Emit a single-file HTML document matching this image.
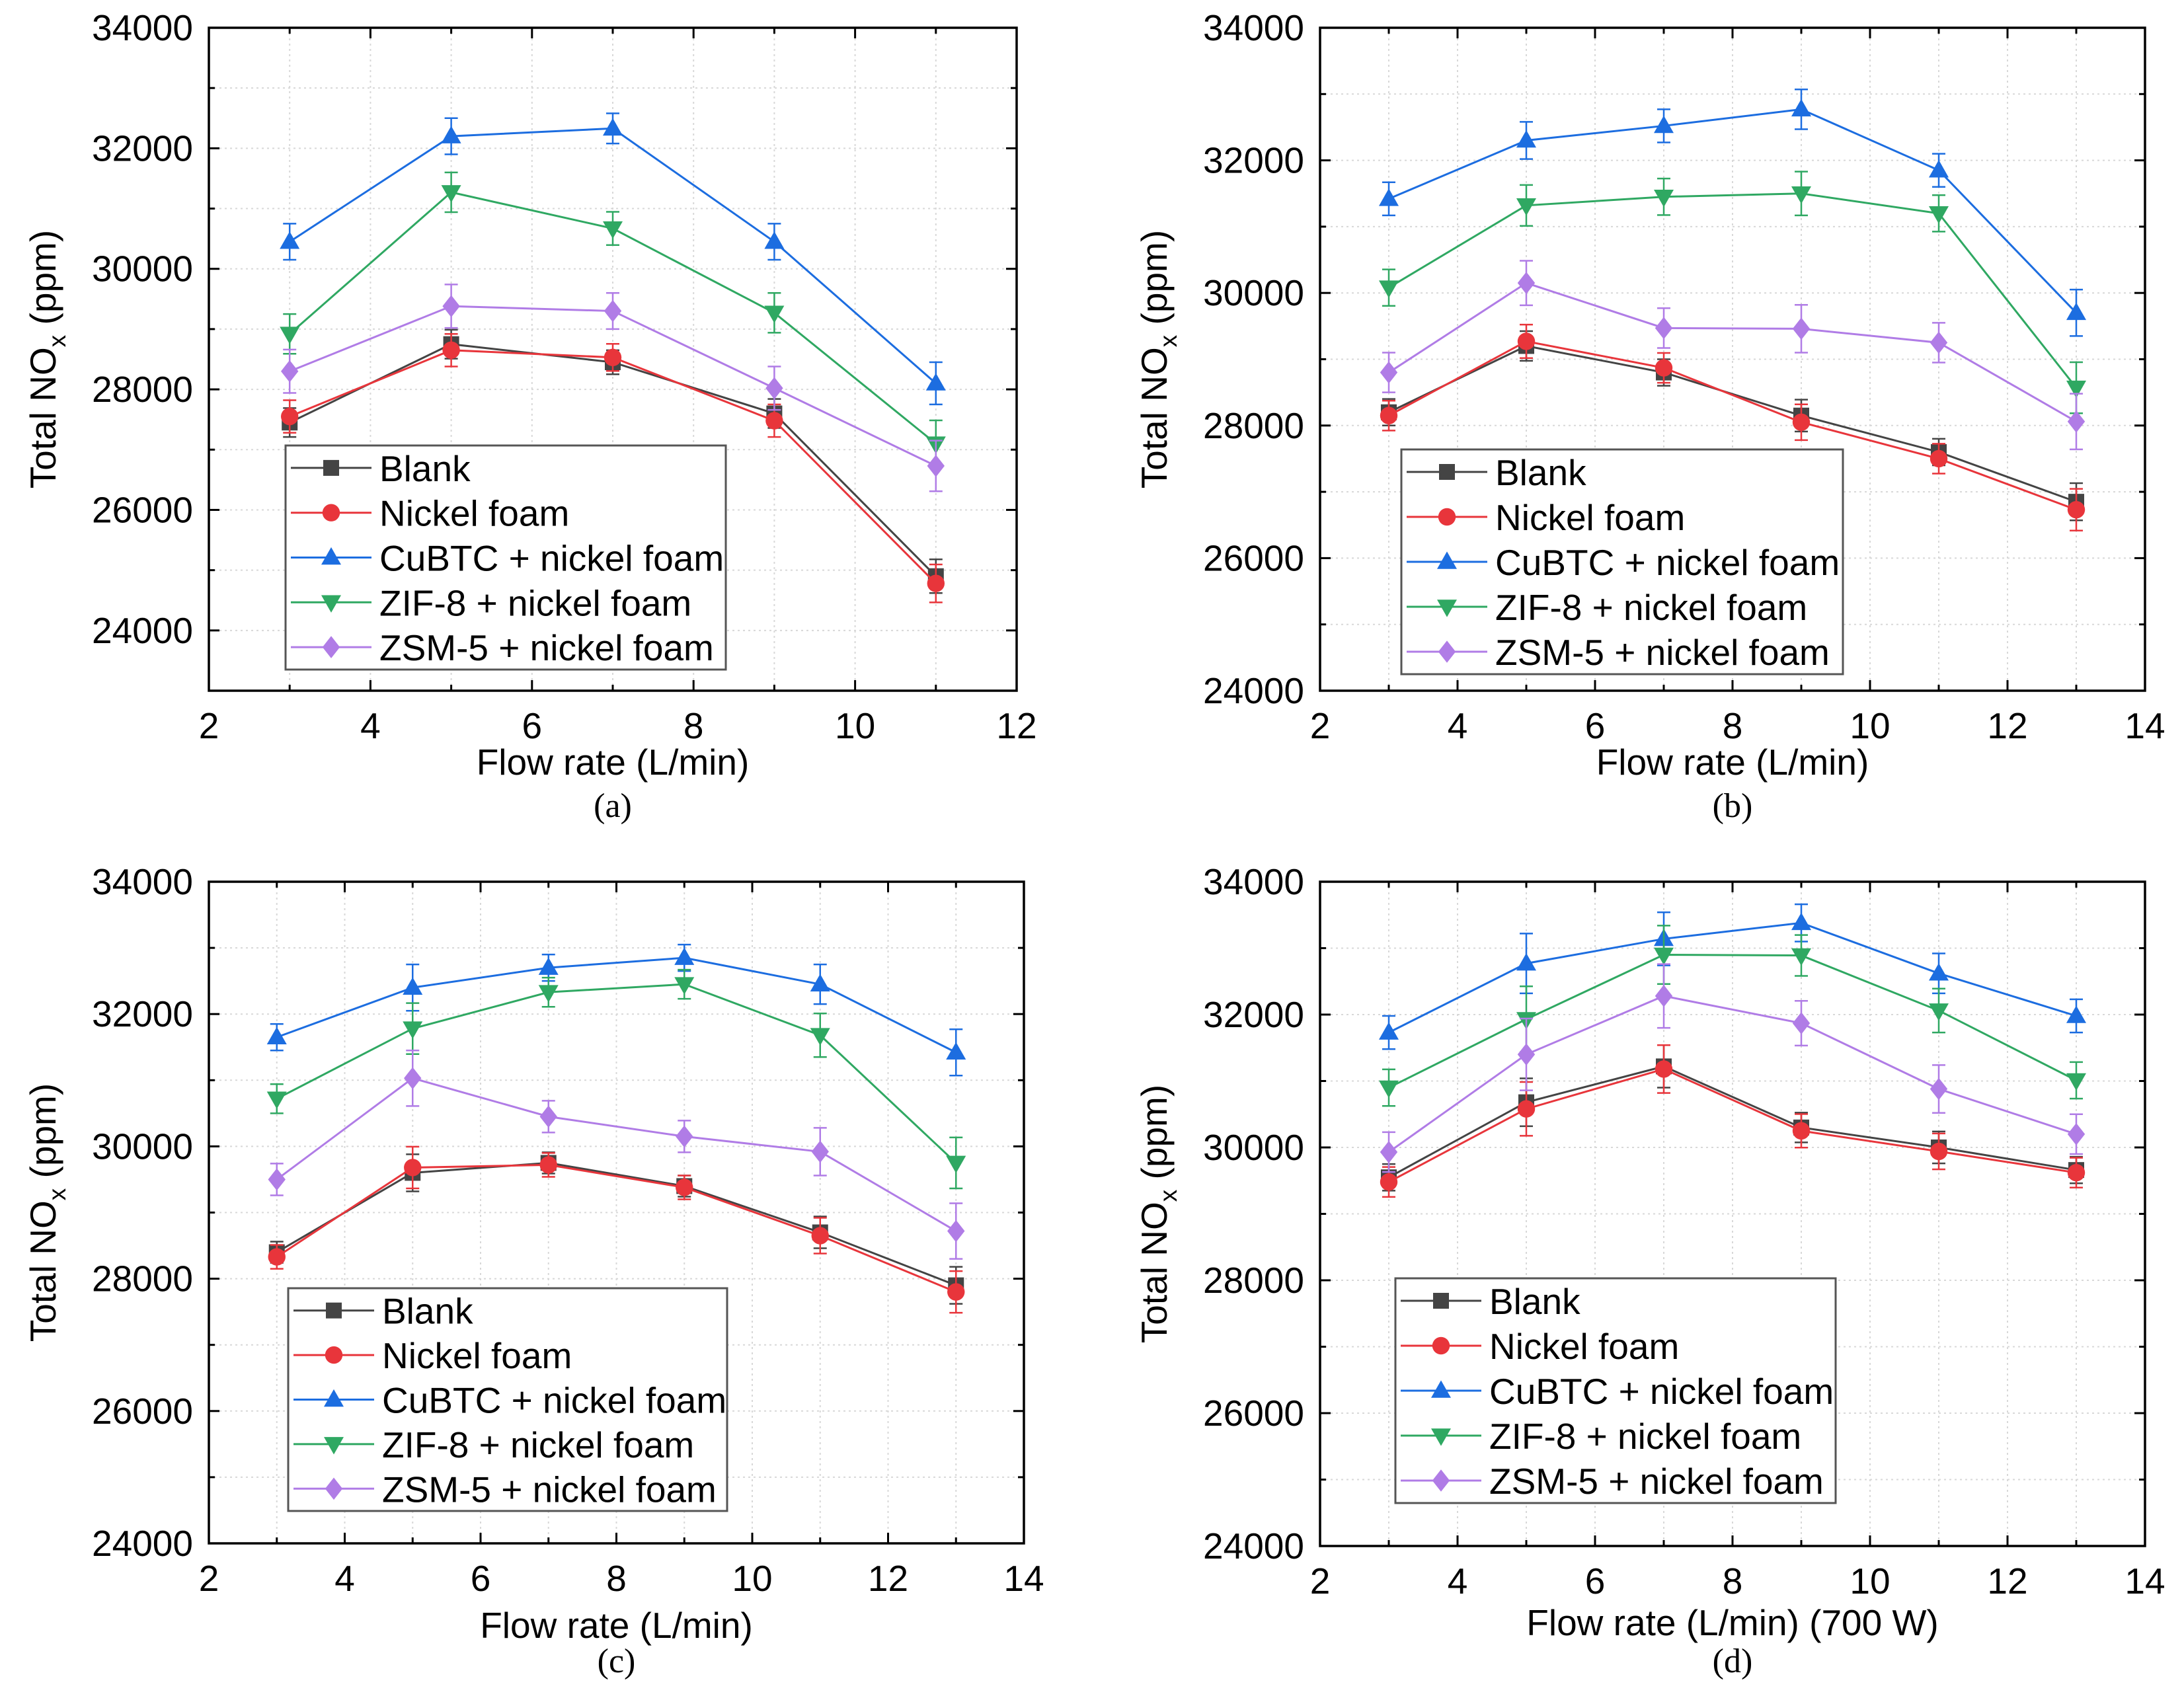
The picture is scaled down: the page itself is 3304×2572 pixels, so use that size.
<!DOCTYPE html>
<html><head><meta charset="utf-8">
<style>
html,body{margin:0;padding:0;background:#fff;}
svg{display:block;}
text{font-family:"Liberation Sans",Arial,sans-serif;fill:#000;}
</style></head>
<body>
<svg id="fig" width="3304" height="2572" viewBox="0 0 3304 2572" xmlns="http://www.w3.org/2000/svg"></svg>
<script>
const seriesNames = ["Blank","Nickel foam","CuBTC + nickel foam","ZIF-8 + nickel foam","ZSM-5 + nickel foam"];
const seriesColors = ["#444444","#e8353b","#1c6de0","#2fa862","#b07ce6"];
const markerShapes = ["square","circle","up","down","diamond"];
const yTicks = [24000,26000,28000,30000,32000,34000];

const xA = [3,5,7,9,11];
const aBlank = [27450,28750,28450,27600,24900];
const aNickel = [27550,28650,28530,27480,24780];
const aCu = [30450,32200,32330,30450,28100];
const aZif = [28920,31270,30670,29270,27100];
const aZsm = [28300,29380,29300,28020,26730];
const aErr = [300,300,250,300,350];

const xB = [3,5,7,9,11,13];
const bBlank = [28200,29200,28800,28150,27600,26850];
const bNickel = [28150,29270,28870,28050,27500,26730];
const bCu = [31420,32300,32520,32770,31850,29700];
const bZif = [30080,31320,31450,31500,31200,28570];
const bZsm = [28800,30150,29470,29460,29250,28060];
const bErr = [250,280,250,300,250,350];

const xC = [3,5,7,9,11,13];
const cBlank = [28400,29600,29750,29400,28700,27900];
const cNickel = [28330,29680,29720,29380,28650,27800];
const cCu = [31650,32400,32700,32850,32450,31420];
const cZif = [30720,31780,32330,32450,31680,29750];
const cZsm = [29500,31030,30450,30150,29920,28720];
const cErr = [200,350,200,200,300,350];

const xD = [3,5,7,9,11,13];
const dBlank = [29550,30680,31220,30300,30000,29660];
const dNickel = [29480,30580,31180,30250,29940,29620];
const dCu = [31730,32770,33140,33380,32620,31980];
const dZif = [30900,31930,32900,32890,32060,31010];
const dZsm = [29930,31400,32280,31870,30880,30200];
const dErr = [250,450,400,280,300,250];

const panels = [
 {id:"a",x:xA,series:[aBlank,aNickel,aCu,aZif,aZsm],err:aErr,xmin:2,xmax:12,ymin:23000,ymax:34000,xt:[2,4,6,8,10,12],
  L:316,R:1538,T:42,B:1045,xlabel:"Flow rate (L/min)",xlabelY:1172,capY:1236,leg:[432,674,1098,1013]},
 {id:"b",x:xB,series:[bBlank,bNickel,bCu,bZif,bZsm],err:bErr,xmin:2,xmax:14,ymin:24000,ymax:34000,xt:[2,4,6,8,10,12,14],
  L:1997,R:3245,T:42,B:1045,xlabel:"Flow rate (L/min)",xlabelY:1172,capY:1236,leg:[2120,680,2788,1020]},
 {id:"c",x:xC,series:[cBlank,cNickel,cCu,cZif,cZsm],err:cErr,xmin:2,xmax:14,ymin:24000,ymax:34000,xt:[2,4,6,8,10,12,14],
  L:316,R:1549,T:1334,B:2335,xlabel:"Flow rate (L/min)",xlabelY:2478,capY:2530,leg:[436,1949,1100,2286]},
 {id:"d",x:xD,series:[dBlank,dNickel,dCu,dZif,dZsm],err:dErr,xmin:2,xmax:14,ymin:24000,ymax:34000,xt:[2,4,6,8,10,12,14],
  L:1997,R:3245,T:1334,B:2339,xlabel:"Flow rate (L/min) (700 W)",xlabelY:2474,capY:2530,leg:[2111,1934,2777,2274]}
];

const NS="http://www.w3.org/2000/svg";
const svg=document.getElementById("fig");
function mk(tag,attrs,parent){const e=document.createElementNS(NS,tag);for(const k in attrs)e.setAttribute(k,attrs[k]);(parent||svg).appendChild(e);return e;}

function marker(g,shape,cx,cy,s,color){
  let e;
  if(shape==="square") e=mk("rect",{x:cx-s,y:cy-s,width:2*s,height:2*s,fill:color},g);
  else if(shape==="circle") e=mk("circle",{cx:cx,cy:cy,r:s*1.1,fill:color},g);
  else if(shape==="up") e=mk("polygon",{points:`${cx},${cy-s*1.3} ${cx-s*1.25},${cy+s*0.9} ${cx+s*1.25},${cy+s*0.9}`,fill:color},g);
  else if(shape==="down") e=mk("polygon",{points:`${cx},${cy+s*1.3} ${cx-s*1.25},${cy-s*0.9} ${cx+s*1.25},${cy-s*0.9}`,fill:color},g);
  else e=mk("polygon",{points:`${cx},${cy-s*1.4} ${cx+s*1.1},${cy} ${cx},${cy+s*1.4} ${cx-s*1.1},${cy}`,fill:color},g);
  return e;
}

panels.forEach(p=>{
  const g=mk("g",{});
  
  
  const sx=v=>p.L+(v-p.xmin)/(p.xmax-p.xmin)*(p.R-p.L);
  const sy=v=>p.B-(v-p.ymin)/(p.ymax-p.ymin)*(p.B-p.T);
  for(let v=p.xmin+1;v<p.xmax;v++) mk("line",{x1:sx(v),x2:sx(v),y1:p.T,y2:p.B,stroke:"#d8d8d8","stroke-width":2,"stroke-dasharray":"3 5"},g);
  for(let v=p.ymin+1000;v<p.ymax;v+=1000) mk("line",{x1:p.L,x2:p.R,y1:sy(v),y2:sy(v),stroke:"#d8d8d8","stroke-width":2,"stroke-dasharray":"3 5"},g);
  for(let v=p.xmin;v<=p.xmax;v++){const major=(v%2===0);const len=major?16:9;
    mk("line",{x1:sx(v),x2:sx(v),y1:p.B,y2:p.B-len,stroke:"#000","stroke-width":3},g);
    mk("line",{x1:sx(v),x2:sx(v),y1:p.T,y2:p.T+len,stroke:"#000","stroke-width":3},g);}
  for(let v=p.ymin;v<=p.ymax;v+=1000){const major=(v%2000===0);const len=major?16:9;
    mk("line",{x1:p.L,x2:p.L+len,y1:sy(v),y2:sy(v),stroke:"#000","stroke-width":3},g);
    mk("line",{x1:p.R,x2:p.R-len,y1:sy(v),y2:sy(v),stroke:"#000","stroke-width":3},g);}
  mk("rect",{x:p.L,y:p.T,width:p.R-p.L,height:p.B-p.T,fill:"none",stroke:"#000","stroke-width":3.5},g);
  p.xt.forEach(v=>{const t=mk("text",{x:sx(v),y:p.B+72,"text-anchor":"middle","font-size":55},g);t.textContent=v;
    
    });
  yTicks.forEach(v=>{const t=mk("text",{x:p.L-24,y:sy(v)+19,"text-anchor":"end","font-size":55},g);t.textContent=v;
    
    });
  const xt=mk("text",{x:(p.L+p.R)/2,y:p.xlabelY,"text-anchor":"middle","font-size":55},g);xt.textContent=p.xlabel;
  
  
  const yc=(p.T+p.B)/2, yx=p.L-232;
  const yt=mk("text",{x:0,y:0,"text-anchor":"middle","font-size":55,transform:`translate(${yx},${yc}) rotate(-90)`},g);
  yt.innerHTML='Total NO<tspan font-size="37" dy="15">x</tspan><tspan dy="-15"> (ppm)</tspan>';
  
  
  const cap=mk("text",{x:(p.L+p.R)/2,y:p.capY,"text-anchor":"middle","font-size":52,style:'font-family:"Liberation Serif",serif'},g);
  cap.textContent="("+p.id+")";
  
  
  p.series.forEach((vals,si)=>{
    const sg=mk("g",{},g);
    
    
    const col=seriesColors[si];
    vals.forEach((v,i)=>{const x=sx(p.x[i]);const e=p.err[i]*(0.8+0.1*si);
      mk("line",{x1:x,x2:x,y1:sy(v-e),y2:sy(v+e),stroke:col,"stroke-width":2.5},sg);
      mk("line",{x1:x-10,x2:x+10,y1:sy(v-e),y2:sy(v-e),stroke:col,"stroke-width":2.5},sg);
      mk("line",{x1:x-10,x2:x+10,y1:sy(v+e),y2:sy(v+e),stroke:col,"stroke-width":2.5},sg);});
    mk("polyline",{points:vals.map((v,i)=>sx(p.x[i])+","+sy(v)).join(" "),fill:"none",stroke:col,"stroke-width":3},sg);
    vals.forEach((v,i)=>{const m=marker(sg,markerShapes[si],sx(p.x[i]),sy(v),12,col);
      
      });
  });
  const [lx,ly,rx,by]=p.leg;
  const lg=mk("g",{},g);
  
  
  mk("rect",{x:lx,y:ly,width:rx-lx,height:by-ly,fill:"#fff",stroke:"#555","stroke-width":3},lg);
  const step=(by-ly)/5;
  seriesNames.forEach((n,si)=>{const cy=ly+step*(si+0.5);const col=seriesColors[si];
    const eg=mk("g",{},lg);
    
    
    mk("line",{x1:lx+8,x2:lx+130,y1:cy,y2:cy,stroke:col,"stroke-width":3},eg);
    marker(eg,markerShapes[si],lx+69,cy,12,col);
    const t=mk("text",{x:lx+142,y:cy+20,"font-size":55},eg);t.textContent=n;});
});
</script>
</body></html>
